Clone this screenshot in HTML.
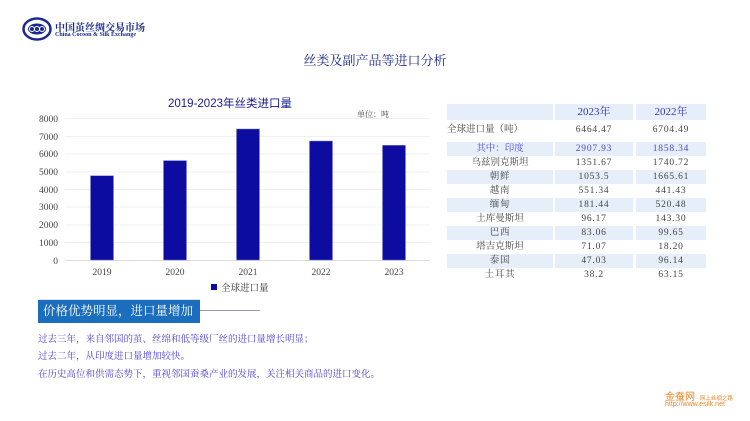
<!DOCTYPE html>
<html><head><meta charset="utf-8"><style>
body{margin:0;width:750px;height:421px;background:#fff;position:relative;overflow:hidden;font-family:"Liberation Serif","Noto Serif CJK SC",serif;}
.a{position:absolute;white-space:nowrap}
.tb div{position:absolute;height:14px;line-height:14px;font-size:9.5px;color:#444;text-align:center;letter-spacing:0.8px}
.sh{background:#e6eef9}
</style></head><body>
<svg class="a" style="left:22px;top:17px" width="30" height="24" viewBox="0 0 30 24">
<ellipse cx="15" cy="12" rx="13.5" ry="10.5" fill="none" stroke="#1a2a8c" stroke-width="2.5"/>
<ellipse cx="15" cy="12" rx="9" ry="5.5" fill="#1a2a8c"/>
<circle cx="10" cy="12" r="2.5" fill="none" stroke="#fff" stroke-width="1"/><circle cx="15" cy="12" r="2.5" fill="none" stroke="#fff" stroke-width="1"/><circle cx="20" cy="12" r="2.5" fill="none" stroke="#fff" stroke-width="1"/>
</svg>
<div class="a" style="left:55px;top:19px;font-size:10px;color:#1a2a8c;font-weight:bold">中国茧丝绸交易市场</div>
<div class="a" style="left:55px;top:32px;font-size:6px;color:#1a2a8c;font-weight:bold">China Cocoon &amp; Silk Exchange</div>
<div class="a" style="left:0;width:750px;text-align:center;top:50px;font-size:13px;color:#1a2a8c">丝类及副产品等进口分析</div>

<svg class="a" style="left:0;top:0" width="450" height="300">
<text x="230" y="107" text-anchor="middle" font-family="Liberation Sans,Noto Sans CJK SC,sans-serif" font-size="11.5" fill="#1a1a8c">2019-2023年丝类进口量</text>
<text x="373" y="117" text-anchor="middle" font-size="8" fill="#444">单位：吨</text>
<g stroke="#f0f0f0" stroke-width="1">
<line x1="65" x2="430" y1="118.5" y2="118.5"/><line x1="65" x2="430" y1="136.5" y2="136.5"/><line x1="65" x2="430" y1="154" y2="154"/><line x1="65" x2="430" y1="172" y2="172"/><line x1="65" x2="430" y1="189.5" y2="189.5"/><line x1="65" x2="430" y1="207" y2="207"/><line x1="65" x2="430" y1="225" y2="225"/><line x1="65" x2="430" y1="242.5" y2="242.5"/>
</g>
<line x1="65" x2="430" y1="260.5" y2="260.5" stroke="#ddd"/>
<g font-size="9.5" fill="#444" text-anchor="end">
<text x="58" y="122">8000</text><text x="58" y="140">7000</text><text x="58" y="157">6000</text><text x="58" y="175">5000</text><text x="58" y="193">4000</text><text x="58" y="210">3000</text><text x="58" y="228">2000</text><text x="58" y="246">1000</text><text x="58" y="264">0</text>
</g>
<g fill="#0c0ca0" stroke="#8080d0" stroke-width="0.5">
<rect x="90.5" y="175.7" width="23" height="84.3"/>
<rect x="163.5" y="160.6" width="23" height="99.4"/>
<rect x="236.5" y="129" width="23" height="131"/>
<rect x="309.5" y="141" width="23" height="119"/>
<rect x="382.5" y="145.3" width="23" height="114.7"/>
</g>
<g font-size="9.5" fill="#444" text-anchor="middle">
<text x="102" y="275">2019</text><text x="175" y="275">2020</text><text x="248" y="275">2021</text><text x="321" y="275">2022</text><text x="394" y="275">2023</text>
</g>
<rect x="211" y="284" width="6" height="6" fill="#0c0ca0"/>
<text x="221" y="291" font-size="9.5" fill="#333">全球进口量</text>
<line x1="38" x2="200" y1="299.5" y2="299.5" stroke="#dde"/>
</svg>

<div class="tb">
<div class="sh" style="left:447px;top:104px;width:106px;height:16px"></div>
<div class="sh" style="left:555px;top:104px;width:78px;height:16px;line-height:16px;font-size:11px;color:#3a3ab0;letter-spacing:0">2023年</div>
<div class="sh" style="left:636px;top:104px;width:70px;height:16px;line-height:16px;font-size:11px;color:#3a3ab0;letter-spacing:0">2022年</div>
<div style="left:447px;top:123px;width:106px;text-align:left;letter-spacing:0">全球进口量（吨）</div><div style="left:555px;top:123px;width:78px">6464.47</div><div style="left:636px;top:123px;width:70px">6704.49</div>
<div class="sh" style="left:447px;top:142px;width:106px;color:#4a4ad0;letter-spacing:0">其中：印度</div><div class="sh" style="left:555px;top:142px;width:78px;color:#4a4ad0">2907.93</div><div class="sh" style="left:636px;top:142px;width:70px;color:#4a4ad0">1858.34</div>
<div style="left:447px;top:156px;width:106px;letter-spacing:0">乌兹别克斯坦</div><div style="left:555px;top:156px;width:78px">1351.67</div><div style="left:636px;top:156px;width:70px">1740.72</div>
<div class="sh" style="left:447px;top:170px;width:106px">朝鲜</div><div class="sh" style="left:555px;top:170px;width:78px">1053.5</div><div class="sh" style="left:636px;top:170px;width:70px">1665.61</div>
<div style="left:447px;top:184px;width:106px">越南</div><div style="left:555px;top:184px;width:78px">551.34</div><div style="left:636px;top:184px;width:70px">441.43</div>
<div class="sh" style="left:447px;top:198px;width:106px">缅甸</div><div class="sh" style="left:555px;top:198px;width:78px">181.44</div><div class="sh" style="left:636px;top:198px;width:70px">520.48</div>
<div style="left:447px;top:212px;width:106px;letter-spacing:0">土库曼斯坦</div><div style="left:555px;top:212px;width:78px">96.17</div><div style="left:636px;top:212px;width:70px">143.30</div>
<div class="sh" style="left:447px;top:226px;width:106px">巴西</div><div class="sh" style="left:555px;top:226px;width:78px">83.06</div><div class="sh" style="left:636px;top:226px;width:70px">99.65</div>
<div style="left:447px;top:240px;width:106px;letter-spacing:0">塔吉克斯坦</div><div style="left:555px;top:240px;width:78px">71.07</div><div style="left:636px;top:240px;width:70px">18.20</div>
<div class="sh" style="left:447px;top:254px;width:106px">泰国</div><div class="sh" style="left:555px;top:254px;width:78px">47.03</div><div class="sh" style="left:636px;top:254px;width:70px">96.14</div>
<div style="left:447px;top:268px;width:106px">土耳其</div><div style="left:555px;top:268px;width:78px">38.2</div><div style="left:636px;top:268px;width:70px">63.15</div>
</div>

<div class="a" style="left:38px;top:300px;width:162px;height:23px;background:#1b6dbd;color:#fff;font-size:12.5px;line-height:23px;text-indent:5px;overflow:hidden">价格优势明显，进口量增加</div>
<div class="a" style="left:200px;top:310px;width:60px;height:1px;background:#99b"></div>
<div class="a" style="left:38px;top:331px;font-size:9.5px;color:#4a3fd0">过去三年，来自邻国的茧、丝绵和低等级厂丝的进口量增长明显；</div>
<div class="a" style="left:38px;top:348px;font-size:9.5px;color:#4a3fd0">过去二年，从印度进口量增加较快。</div>
<div class="a" style="left:38px;top:366px;font-size:9.5px;color:#4a3fd0">在历史高位和供需态势下，重视邻国蚕桑产业的发展，关注相关商品的进口变化。</div>
<div class="a" style="left:665px;top:388px;font-size:10px;color:#e8852a;font-family:'Liberation Sans','Noto Sans CJK SC',sans-serif">金蚕网<span style="font-size:5.5px"> - 网上丝绸之路</span></div>
<div class="a" style="left:665px;top:401px;font-size:7px;color:#e8852a;font-family:'Liberation Sans',sans-serif">http://www.esilk.net</div>
</body></html>
